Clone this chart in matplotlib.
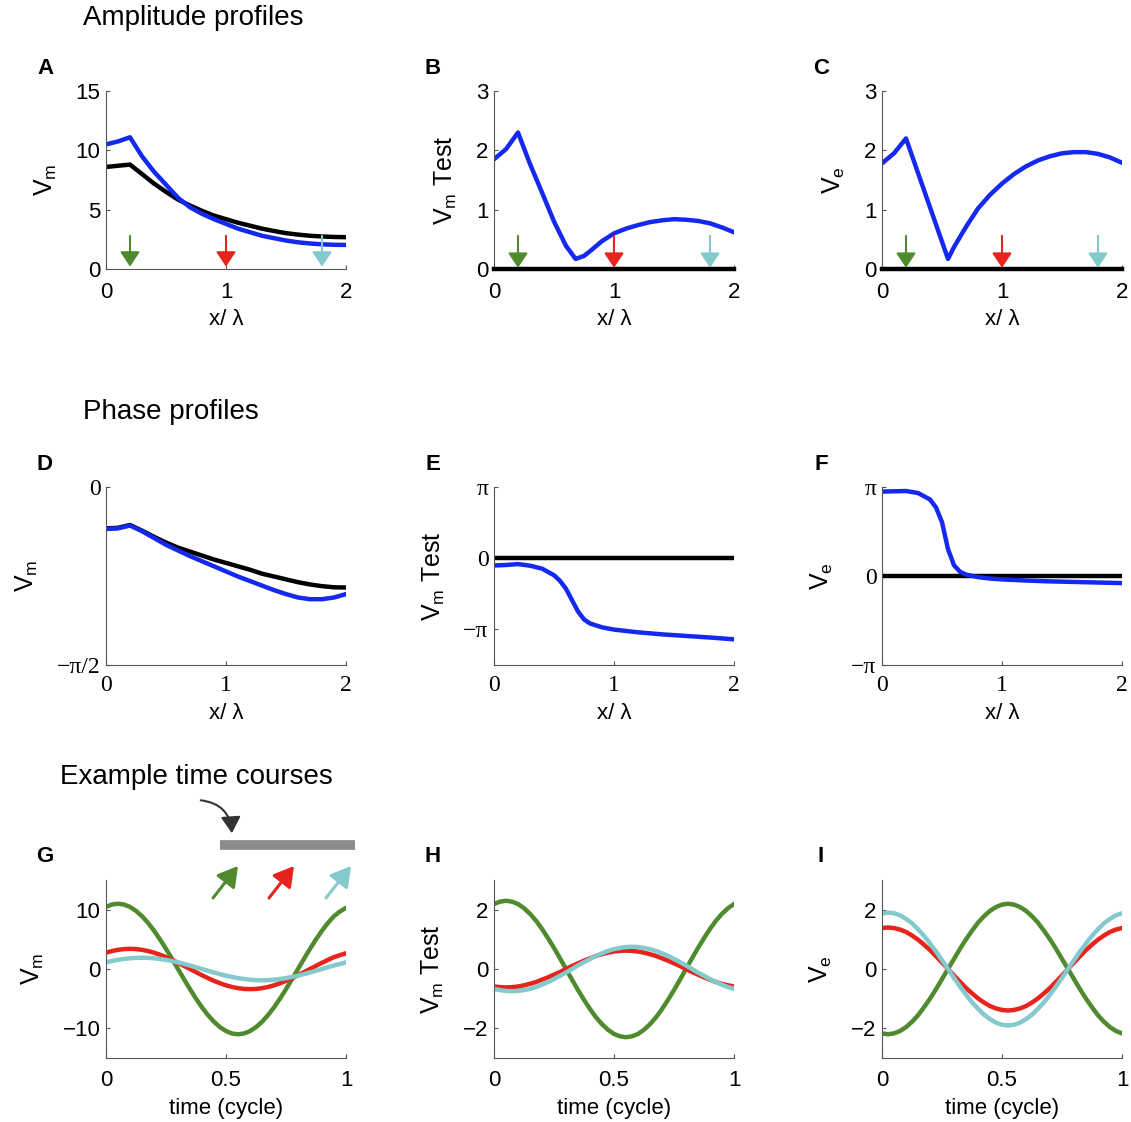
import numpy as np
import matplotlib
matplotlib.use("Agg")
import matplotlib.pyplot as plt
from matplotlib.patches import FancyArrowPatch

plt.rcParams['font.family'] = ['Liberation Sans', 'DejaVu Sans']

# colours
BLUE = '#1428f0'
GREEN = '#4f8a2e'
RED = '#e6241c'
CYAN = '#84c9cc'
AXC = '#555555'

# ---- amplitude profiles ----
xa = [0, 0.1, 0.2, 0.3, 0.4, 0.5, 0.6, 0.7, 0.8, 0.9, 1.0,
      1.1, 1.2, 1.3, 1.4, 1.5, 1.6, 1.7, 1.8, 1.9, 2.0]
a_blue = [10.5, 10.75, 11.1, 9.5, 8.2, 7.1, 6.0, 5.2, 4.65, 4.2, 3.8,
          3.4, 3.1, 2.8, 2.6, 2.4, 2.25, 2.15, 2.08, 2.04, 2.03]
a_black = [8.6, 8.7, 8.8, 8.0, 7.2, 6.5, 5.85, 5.35, 4.9, 4.5, 4.2,
           3.9, 3.65, 3.4, 3.2, 3.02, 2.9, 2.8, 2.74, 2.7, 2.68]

xb = [0, 0.1, 0.2, 0.3, 0.4, 0.5, 0.6, 0.68, 0.75, 0.8, 0.9, 1.0,
      1.1, 1.2, 1.3, 1.4, 1.5, 1.6, 1.7, 1.8, 1.9, 2.0]
b_blue = [1.85, 2.02, 2.3, 1.77, 1.29, 0.8, 0.39, 0.17, 0.22, 0.3, 0.47, 0.6,
          0.68, 0.74, 0.79, 0.82, 0.84, 0.83, 0.81, 0.77, 0.7, 0.62]

xc = [0, 0.1, 0.2, 0.3, 0.4, 0.5, 0.55, 0.6, 0.7, 0.8, 0.9, 1.0,
      1.1, 1.2, 1.3, 1.4, 1.5, 1.6, 1.7, 1.8, 1.9, 2.0]
c_blue = [1.78, 1.95, 2.2, 1.62, 1.04, 0.46, 0.17, 0.37, 0.71, 1.02, 1.25, 1.44,
          1.6, 1.73, 1.83, 1.9, 1.95, 1.97, 1.97, 1.94, 1.88, 1.79]

arrow_x = [0.2, 1.0, 1.8]
arrow_colors = [GREEN, RED, CYAN]

# ---- phase profiles ----
xd = [0, 0.1, 0.2, 0.3, 0.4, 0.5, 0.6, 0.7, 0.8, 0.9, 1.0,
      1.1, 1.2, 1.3, 1.4, 1.5, 1.6, 1.7, 1.8, 1.9, 2.0]
d_blue = [-0.37, -0.365, -0.34, -0.39, -0.45, -0.51, -0.56, -0.61, -0.655, -0.70, -0.745,
          -0.79, -0.83, -0.87, -0.91, -0.945, -0.975, -0.99, -0.99, -0.975, -0.945]
d_black = [-0.365, -0.36, -0.335, -0.385, -0.44, -0.49, -0.535, -0.57, -0.605, -0.64, -0.67,
           -0.70, -0.73, -0.765, -0.79, -0.815, -0.84, -0.86, -0.875, -0.885, -0.887]

xe = [0, 0.1, 0.2, 0.3, 0.4, 0.5, 0.55, 0.6, 0.65, 0.7, 0.75, 0.8, 0.9, 1.0,
      1.2, 1.4, 1.6, 1.8, 2.0]
e_blue = [-0.32, -0.30, -0.26, -0.33, -0.46, -0.75, -1.0, -1.35, -1.85, -2.35, -2.7, -2.88,
          -3.05, -3.15, -3.27, -3.36, -3.43, -3.5, -3.58]

xf = [0, 0.1, 0.2, 0.3, 0.4, 0.45, 0.5, 0.55, 0.6, 0.65, 0.7, 0.8, 0.9, 1.0,
      1.2, 1.4, 1.6, 1.8, 2.0]
f_blue = [2.98, 2.99, 3.0, 2.93, 2.7, 2.42, 1.9, 0.95, 0.38, 0.15, 0.05, -0.04, -0.09, -0.12,
          -0.16, -0.19, -0.21, -0.23, -0.25]

# ---- example time courses ----
t = [0, 0.025, 0.05, 0.075, 0.1, 0.125, 0.15, 0.175, 0.2, 0.225, 0.25,
     0.275, 0.3, 0.325, 0.35, 0.375, 0.4, 0.425, 0.45, 0.475, 0.5,
     0.525, 0.55, 0.575, 0.6, 0.625, 0.65, 0.675, 0.7, 0.725, 0.75,
     0.775, 0.8, 0.825, 0.85, 0.875, 0.9, 0.925, 0.95, 0.975, 1.0]
g_green = [10.46, 10.87, 11.0, 10.87, 10.46, 9.80, 8.90, 7.78, 6.47, 4.99, 3.40,
           1.72, 0.0, -1.72, -3.40, -4.99, -6.47, -7.78, -8.90, -9.80, -10.46,
           -10.87, -11.0, -10.87, -10.46, -9.80, -8.90, -7.78, -6.47, -4.99, -3.40,
           -1.72, 0.0, 1.72, 3.40, 4.99, 6.47, 7.78, 8.90, 9.70, 10.3]
g_red = [2.75, 3.03, 3.23, 3.36, 3.4, 3.36, 3.23, 3.03, 2.75, 2.40, 2.0,
         1.54, 1.05, 0.53, 0.0, -0.53, -1.05, -1.54, -2.0, -2.40, -2.75,
         -3.03, -3.23, -3.36, -3.4, -3.36, -3.23, -3.03, -2.75, -2.40, -2.0,
         -1.54, -1.05, -0.53, 0.0, 0.53, 1.05, 1.54, 2.0, 2.35, 2.65]
g_cyan = [1.12, 1.34, 1.54, 1.69, 1.81, 1.88, 1.9, 1.88, 1.81, 1.69, 1.54,
          1.34, 1.12, 0.86, 0.59, 0.30, 0.0, -0.30, -0.59, -0.86, -1.12,
          -1.34, -1.54, -1.69, -1.81, -1.88, -1.9, -1.88, -1.81, -1.69, -1.54,
          -1.34, -1.12, -0.86, -0.59, -0.30, 0.0, 0.30, 0.59, 0.86, 1.12]
h_green = [2.19, 2.27, 2.3, 2.27, 2.19, 2.05, 1.86, 1.63, 1.35, 1.04, 0.71,
           0.36, 0.0, -0.36, -0.71, -1.04, -1.35, -1.63, -1.86, -2.05, -2.19,
           -2.27, -2.3, -2.27, -2.19, -2.05, -1.86, -1.63, -1.35, -1.04, -0.71,
           -0.36, 0.0, 0.36, 0.71, 1.04, 1.35, 1.63, 1.86, 2.05, 2.19]
h_red = [-0.59, -0.61, -0.62, -0.61, -0.59, -0.55, -0.50, -0.44, -0.36, -0.28, -0.19,
         -0.10, 0.0, 0.10, 0.19, 0.28, 0.36, 0.44, 0.50, 0.55, 0.59,
         0.61, 0.62, 0.61, 0.59, 0.55, 0.50, 0.44, 0.36, 0.28, 0.19,
         0.10, 0.0, -0.10, -0.19, -0.28, -0.36, -0.44, -0.50, -0.55, -0.59]
h_cyan = [-0.67, -0.71, -0.74, -0.75, -0.74, -0.71, -0.67, -0.61, -0.53, -0.44, -0.34,
          -0.23, -0.12, 0.0, 0.12, 0.23, 0.34, 0.44, 0.53, 0.61, 0.67,
          0.71, 0.74, 0.75, 0.74, 0.71, 0.67, 0.61, 0.53, 0.44, 0.34,
          0.23, 0.12, 0.0, -0.12, -0.23, -0.34, -0.44, -0.53, -0.61, -0.67]
i_green = [-2.17, -2.2, -2.17, -2.09, -1.96, -1.78, -1.56, -1.29, -1.0, -0.68, -0.34,
           0.0, 0.34, 0.68, 1.0, 1.29, 1.56, 1.78, 1.96, 2.09, 2.17,
           2.2, 2.17, 2.09, 1.96, 1.78, 1.56, 1.29, 1.0, 0.68, 0.34,
           0.0, -0.34, -0.68, -1.0, -1.29, -1.56, -1.78, -1.96, -2.09, -2.17]
i_red = [1.38, 1.4, 1.38, 1.33, 1.25, 1.13, 0.99, 0.82, 0.64, 0.43, 0.22,
         0.0, -0.22, -0.43, -0.64, -0.82, -0.99, -1.13, -1.25, -1.33, -1.38,
         -1.4, -1.38, -1.33, -1.25, -1.13, -0.99, -0.82, -0.64, -0.43, -0.22,
         0.0, 0.22, 0.43, 0.64, 0.82, 0.99, 1.13, 1.25, 1.33, 1.38]
i_cyan = [1.88, 1.9, 1.88, 1.81, 1.69, 1.54, 1.34, 1.12, 0.86, 0.59, 0.30,
          0.0, -0.30, -0.59, -0.86, -1.12, -1.34, -1.54, -1.69, -1.81, -1.88,
          -1.9, -1.88, -1.81, -1.69, -1.54, -1.34, -1.12, -0.86, -0.59, -0.30,
          0.0, 0.30, 0.59, 0.86, 1.12, 1.34, 1.54, 1.69, 1.81, 1.88]


W, H = 1131, 1122
fig = plt.figure(figsize=(W / 100, H / 100), dpi=100)

col_left = [106, 494, 882]
row_top = [91, 487, 880]
ax_w, ax_h = 240, 178


def make_ax(r, c):
    rect = [col_left[c] / W, 1 - (row_top[r] + ax_h) / H, ax_w / W, ax_h / H]
    ax = fig.add_axes(rect)
    for s in ['top', 'right']:
        ax.spines[s].set_visible(False)
    for s in ['left', 'bottom']:
        ax.spines[s].set_color(AXC)
        ax.spines[s].set_linewidth(0.8)
    ax.tick_params(direction='in', length=3, width=0.8, color=AXC, labelsize=16)
    ax.tick_params(axis='x', pad=9)
    ax.tick_params(axis='y', pad=4)
    return ax


def serif_ticks(ax):
    ax.tick_params(axis='x', pad=7)
    for lab in ax.get_xticklabels() + ax.get_yticklabels():
        lab.set_fontfamily(['Liberation Serif', 'DejaVu Serif'])
        lab.set_fontsize(17)


def add_arrows(ax, tail, tip):
    for x, col in zip(arrow_x, arrow_colors):
        ax.annotate('', xy=(x, tip), xytext=(x, tail),
                    arrowprops=dict(arrowstyle='-|>,head_width=0.3,head_length=0.45',
                                    mutation_scale=20, color=col, lw=1.5,
                                    shrinkA=0, shrinkB=0))


def labels(ax, xlab, ylab):
    ax.set_xlabel(xlab, fontsize=16, labelpad=5)
    ax.set_ylabel(ylab, fontsize=18, labelpad=12)


def panel_letter(r, c, letter):
    fig.text((col_left[c] - 61) / W, 1 - (row_top[r] - 23) / H, letter,
             fontsize=16, fontweight='bold', ha='center', va='center')


XLAB = 'x/ λ'
VM = r'$\mathregular{V_m}$'
VMT = r'$\mathregular{V_m}$ Test'
VE = r'$\mathregular{V_e}$'
LW = 3.2

# A
ax = make_ax(0, 0)
ax.plot(xa, a_black, color='k', lw=LW)
ax.plot(xa, a_blue, color=BLUE, lw=LW)
add_arrows(ax, 2.8, 0.2)
ax.set_xlim(0, 2)
ax.set_ylim(0, 15)
ax.set_xticks([0, 1, 2])
ax.set_yticks([0, 5, 10, 15])
labels(ax, XLAB, VM)

# B
ax = make_ax(0, 1)
ax.plot([0, 2], [0, 0], color='k', lw=LW, clip_on=False, zorder=3)
ax.plot(xb, b_blue, color=BLUE, lw=LW)
add_arrows(ax, 0.56, 0.02)
ax.set_xlim(0, 2)
ax.set_ylim(0, 3)
ax.set_xticks([0, 1, 2])
ax.set_yticks([0, 1, 2, 3])
labels(ax, XLAB, VMT)

# C
ax = make_ax(0, 2)
ax.plot([0, 2], [0, 0], color='k', lw=LW, clip_on=False, zorder=3)
ax.plot(xc, c_blue, color=BLUE, lw=LW)
add_arrows(ax, 0.56, 0.02)
ax.set_xlim(0, 2)
ax.set_ylim(0, 3)
ax.set_xticks([0, 1, 2])
ax.set_yticks([0, 1, 2, 3])
labels(ax, XLAB, VE)

# D
ax = make_ax(1, 0)
ax.plot(xd, d_black, color='k', lw=LW)
ax.plot(xd, d_blue, color=BLUE, lw=LW)
ax.set_xlim(0, 2)
ax.set_ylim(-np.pi / 2, 0)
ax.set_xticks([0, 1, 2])
ax.set_yticks([-np.pi / 2, 0])
ax.set_yticklabels(['−π/2', '0'])
serif_ticks(ax)
labels(ax, XLAB, VM)

# E
ax = make_ax(1, 1)
ax.plot([0, 2], [0, 0], color='k', lw=LW)
ax.plot(xe, e_blue, color=BLUE, lw=LW)
ax.set_xlim(0, 2)
ax.set_ylim(-1.5 * np.pi, np.pi)
ax.set_xticks([0, 1, 2])
ax.set_yticks([-np.pi, 0, np.pi])
ax.set_yticklabels(['−π', '0', 'π'])
serif_ticks(ax)
labels(ax, XLAB, VMT)

# F
ax = make_ax(1, 2)
ax.plot([0, 2], [0, 0], color='k', lw=LW)
ax.plot(xf, f_blue, color=BLUE, lw=LW)
ax.set_xlim(0, 2)
ax.set_ylim(-np.pi, np.pi)
ax.set_xticks([0, 1, 2])
ax.set_yticks([-np.pi, 0, np.pi])
ax.set_yticklabels(['−π', '0', 'π'])
serif_ticks(ax)
labels(ax, XLAB, VE)

# G, H, I
series = [(g_green, g_red, g_cyan, 15, [-10, 0, 10], VM),
          (h_green, h_red, h_cyan, 3, [-2, 0, 2], VMT),
          (i_green, i_red, i_cyan, 3, [-2, 0, 2], VE)]
for c, (gr, rd, cy, lim, yt, lab) in enumerate(series):
    ax = make_ax(2, c)
    ax.plot(t, gr, color=GREEN, lw=LW)
    ax.plot(t, rd, color=RED, lw=LW)
    ax.plot(t, cy, color=CYAN, lw=LW)
    ax.set_xlim(0, 1)
    ax.set_ylim(-lim, lim)
    ax.set_xticks([0, 0.5, 1])
    ax.set_xticklabels(['0', '0.5', '1'])
    ax.set_yticks(yt)
    ax.set_yticklabels([str(v).replace('-', '−') for v in yt])
    labels(ax, 'time (cycle)', lab)

# panel letters
letters = ['A', 'B', 'C', 'D', 'E', 'F', 'G', 'H', 'I']
for k, letter in enumerate(letters):
    panel_letter(k // 3, k % 3, letter)

# section titles
fig.text(83 / W, 1 - 18 / H, 'Amplitude profiles', fontsize=20, va='center')
fig.text(83 / W, 1 - 412 / H, 'Phase profiles', fontsize=20, va='center')
fig.text(60 / W, 1 - 777 / H, 'Example time courses', fontsize=20, va='center')


def fpt(x, y):
    return (x / W, 1 - y / H)


# schematic of the cable with recording sites
fig.add_artist(plt.Line2D([220 / W, 355 / W], [1 - 845 / H, 1 - 845 / H],
                          color='#8c8c8c', lw=7, solid_capstyle='butt'))
fig.add_artist(FancyArrowPatch(fpt(198, 800), fpt(232, 836),
                               transform=fig.transFigure,
                               connectionstyle='arc3,rad=-0.45',
                               arrowstyle='-|>,head_width=0.3,head_length=0.5',
                               mutation_scale=20, color='#333333', lw=1.5))
for x0, col in zip([213, 269, 326], arrow_colors):
    fig.add_artist(FancyArrowPatch(fpt(x0, 898), fpt(x0 + 25, 866),
                                   transform=fig.transFigure,
                                   arrowstyle='-|>,head_width=0.35,head_length=0.6',
                                   mutation_scale=20, color=col, lw=2.2,
                                   shrinkA=0, shrinkB=0))

fig.savefig('out.png', dpi=100)
